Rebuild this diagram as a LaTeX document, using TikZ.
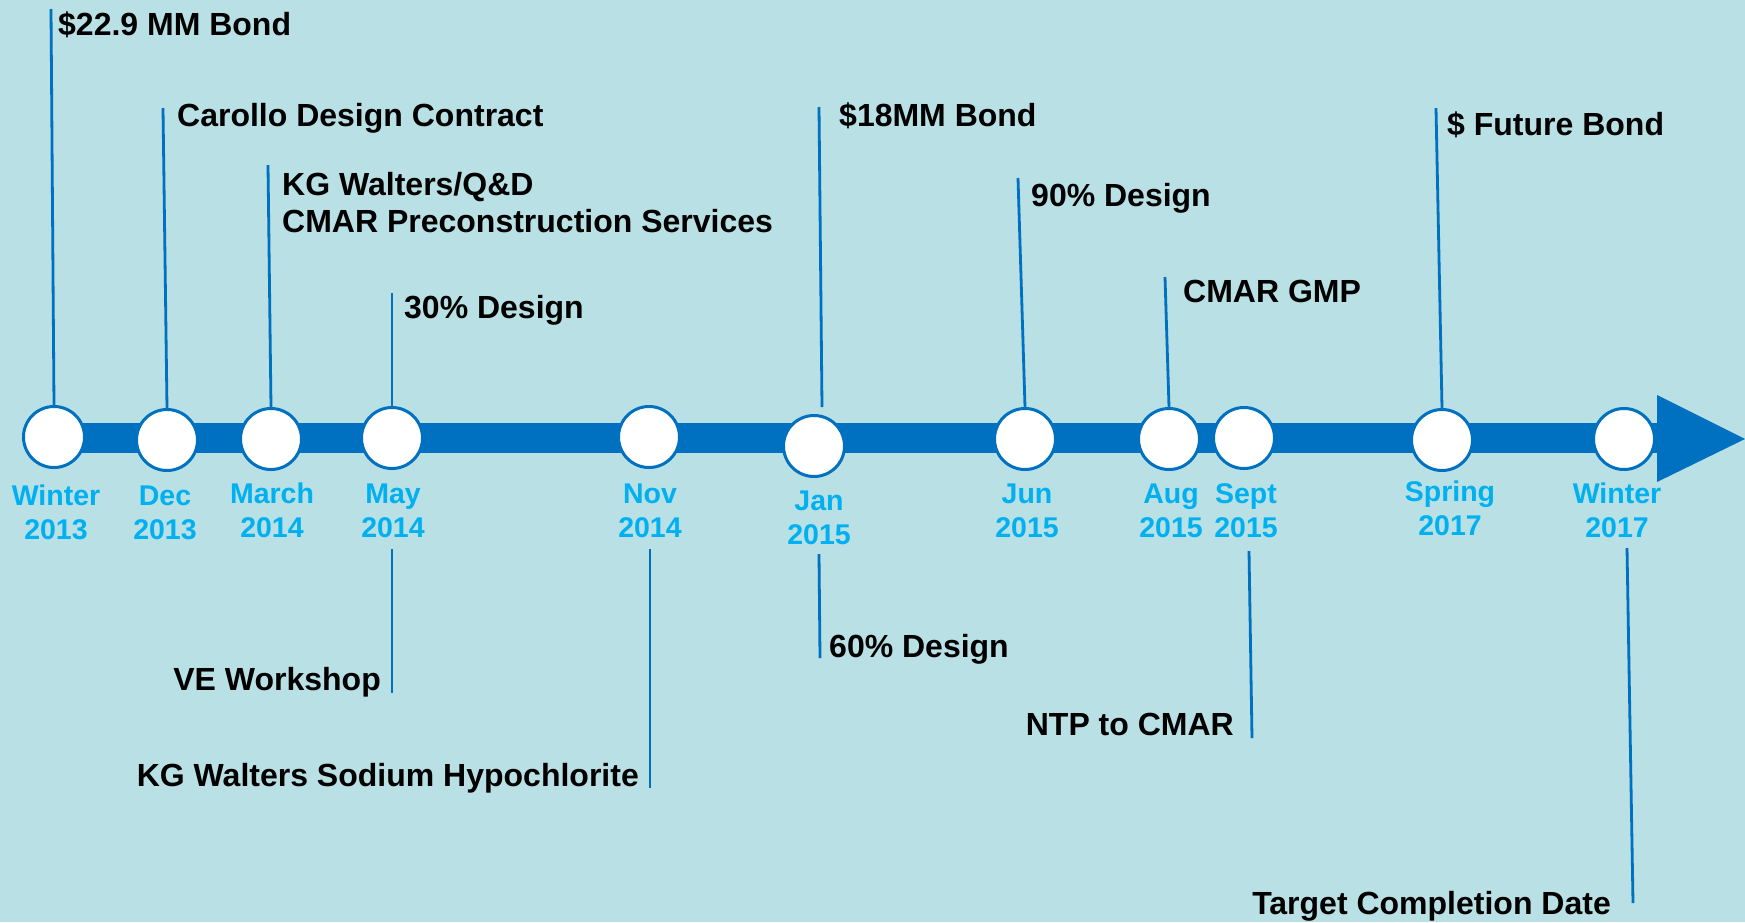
\documentclass[tikz,border=0pt]{standalone}
\usepackage{fontspec}
\setmainfont{Liberation Sans}
\definecolor{bgteal}{RGB}{185,224,228}
\definecolor{lineblue}{RGB}{0,112,192}
\definecolor{dateblue}{RGB}{0,176,240}
\begin{document}
\begin{tikzpicture}[x=1pt,y=-1pt,
  stop/.style={circle,draw=lineblue,line width=3pt,fill=white,minimum size=61pt,inner sep=0pt},
  date/.style={text=dateblue,font=\fontsize{28.5}{34}\selectfont\bfseries,align=center,anchor=base,inner sep=0pt},
  event/.style={font=\fontsize{32}{37}\selectfont\bfseries,inner sep=0pt},
  tick/.style={draw=lineblue,line width=2.8pt}]
\useasboundingbox (0,0) rectangle (1745,922);
\fill[bgteal] (0,0) rectangle (1745,922);
% the time band and its arrow head
\fill[lineblue] (54,423) rectangle (1658,453);
\fill[lineblue] (1657,395) -- (1745,439) -- (1657,482) -- cycle;
% milestones
\node[stop] (w13) at (54,437) {};
\node[stop] (d13) at (167,440) {};
\node[stop] (m14) at (271,439) {};
\node[stop] (y14) at (392,438) {};
\node[stop] (n14) at (649,437) {};
\node[stop] (j15) at (814,446) {};
\node[stop] (u15) at (1025,439) {};
\node[stop] (a15) at (1169,439) {};
\node[stop] (s15) at (1244,438) {};
\node[stop] (p17) at (1442,440) {};
\node[stop] (w17) at (1624,439) {};
% dates under the band (base = last line)
\node[date] (lw13) at (56,539) {Winter\\2013};
\node[date] (ld13) at (165,539) {Dec\\2013};
\node[date] (lm14) at (272,537) {March\\2014};
\node[date] (ly14) at (393,537) {May\\2014};
\node[date] (ln14) at (650,537) {Nov\\2014};
\node[date] (lj15) at (819,544) {Jan\\2015};
\node[date] (lu15) at (1027,537) {Jun\\2015};
\node[date] (la15) at (1171,537) {Aug\\2015};
\node[date] (ls15) at (1246,537) {Sept\\2015};
\node[date] (lp17) at (1450,535) {Spring\\2017};
\node[date] (lw17) at (1617,537) {Winter\\2017};
% events above
\coordinate (t1) at (51,9);
\coordinate (t2) at (163,108);
\coordinate (t3) at (268,165);
\coordinate (t4) at (392,293);
\coordinate (t5) at (819,107);
\coordinate (t6) at (1018,178);
\coordinate (t7) at (1165,277);
\coordinate (t8) at (1436,108);
\draw[tick] (w13.north) -- (t1);
\draw[tick] (d13.north) -- (t2);
\draw[tick] (m14.north) -- (t3);
\draw[tick] (y14.north) -- (t4);
\draw[tick] ([xshift=8pt,yshift=7pt]j15.north) -- (t5);
\draw[tick] (u15.north) -- (t6);
\draw[tick] (a15.north) -- (t7);
\draw[tick] (p17.north) -- (t8);
\node[event,anchor=base west] (bond1) at (58,35) {\$22.9 MM Bond};
\node[event,anchor=base west] (carollo) at (177,126) {Carollo Design Contract};
\node[event,anchor=base west,align=left] (cmar1) at (282,232) {KG Walters/Q\&D\\CMAR Preconstruction Services};
\node[event,anchor=base west] (d30) at (404,318) {30\% Design};
\node[event,anchor=base west] (bond2) at (839,126) {\$18MM Bond};
\node[event,anchor=base west] (d90) at (1031,206) {90\% Design};
\node[event,anchor=base west] (gmp) at (1183,302) {CMAR GMP};
\node[event,anchor=base west] (bond3) at (1447,135) {\$ Future Bond};
% events below
\coordinate (b1) at (392,549);  \coordinate (e1) at (392,693);
\coordinate (b2) at (650,549);  \coordinate (e2) at (650,788);
\coordinate (b3) at (819,554);  \coordinate (e3) at (820,658);
\coordinate (b4) at (1249,551); \coordinate (e4) at (1252,738);
\coordinate (b5) at (1627,548); \coordinate (e5) at (1633,903);
\draw[tick] (b1) -- (e1);
\draw[tick] (b2) -- (e2);
\draw[tick] (b3) -- (e3);
\draw[tick] (b4) -- (e4);
\draw[tick] (b5) -- (e5);
\node[event,anchor=base east] (ve) at (381,690) {VE Workshop};
\node[event,anchor=base east] (hypo) at (639,786) {KG Walters Sodium Hypochlorite};
\node[event,anchor=base west] (d60) at (829,657) {60\% Design};
\node[event,anchor=base east] (ntp) at (1234,735) {NTP to CMAR};
\node[event,anchor=base east] (target) at (1611,914) {Target Completion Date};
\end{tikzpicture}
\end{document}
